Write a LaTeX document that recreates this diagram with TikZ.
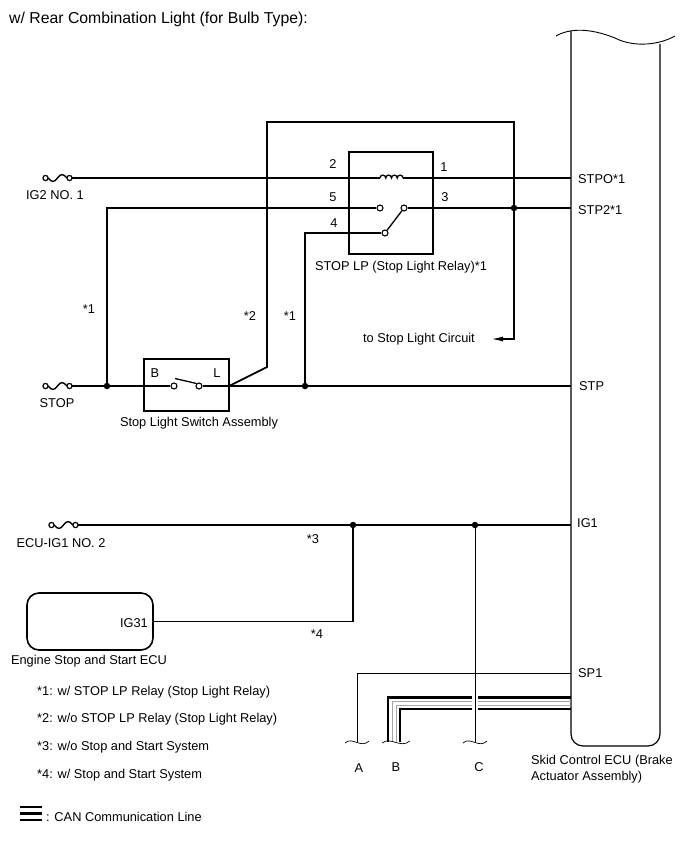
\documentclass[tikz,border=0pt]{standalone}
\usepackage{fontspec}
\setmainfont{Liberation Sans}
\usepackage{tikz}
\usetikzlibrary{arrows.meta}

\tikzset{
	fusesym/.pic={
		\draw[line width=1.2pt] (-12,0) circle (2.6);
		\draw[line width=1.2pt] (12,0) circle (2.6);
		\draw[line width=1.4pt] (-9.4,0) .. controls (-6,4.5) and (-3,4.5) .. (0,0) .. controls (3,-4.5) and (6,-4.5) .. (9.4,0);
		\coordinate (-out) at (14.6,0);
	},
	brk/.pic={
		\draw[line width=0.7pt] (-12,1) .. controls (-5,-6) and (4,7) .. (12,-1);
	}
}

\begin{document}
\begin{tikzpicture}[x=1pt,y=-1pt,font=\fontsize{12.8}{16}\selectfont,
	every node/.style={inner sep=0pt},
	wire/.style={line width=1.8pt},
	thin wire/.style={line width=0.9pt},
	canblack/.style={line width=2.5pt},
	cangray/.style={line width=0.8pt,gray!70},
	>={Latex[length=13pt,width=5pt]}]
	\useasboundingbox (0,0) rectangle (688,852);
	
	\node[anchor=west,font=\fontsize{15.8}{19}\selectfont] (title) at (9,19) {w/ Rear Combination Light (for Bulb Type):};
	
	% Skid Control ECU
	\draw[line width=1.2pt,rounded corners=12pt] (571,31) -- (571,746) -- (660,746) -- (660,44);
	\draw[line width=0.9pt] (556,36) .. controls (575,25) and (600,32) .. (615,38) .. controls (630,46) and (655,47) .. (675,36);
	\coordinate (STPO) at (571,178);
	\coordinate (STP2) at (571,208);
	\coordinate (STP) at (571,386);
	\coordinate (IG1) at (571,525);
	\coordinate (SP1) at (571,673);
	\begin{scope}[every node/.style={anchor=west,inner sep=0pt}]
		\node (tSTPO) at (578,179) {STPO*1};
		\node (tSTP2) at (578,210) {STP2*1};
		\node (tSTP) at (579,386) {STP};
		\node (tIG1) at (577,523) {IG1};
		\node (tSP1) at (578,673) {SP1};
		\node[align=left] (tecu) at (531,769) {Skid Control ECU (Brake\\Actuator Assembly)};
	\end{scope}
	
	% fuses
	\pic (f1) at (57.5,178) {fusesym};
	\pic (f2) at (57.5,386) {fusesym};
	\pic (f3) at (63.5,525) {fusesym};
	\node (tf1) at (55,195) {IG2 NO. 1};
	\node (tf2) at (57,403) {STOP};
	\node (tf3) at (61,543) {ECU-IG1 NO. 2};
	
	% relay and switch
	\node[draw,line width=1.8pt,minimum width=84pt,minimum height=102pt] (relay) at (391,203) {};
	\node (trelay) at (401,267) {STOP LP (Stop Light Relay)*1};
	\node[draw,line width=1.8pt,minimum width=85pt,minimum height=52pt] (sw) at (186.5,385) {};
	\node (tsw) at (199,423) {Stop Light Switch Assembly};
	\node (tB) at (155,373) {B};
	\node (tL) at (217,373) {L};
	\begin{scope}[every node/.style={circle,draw,fill=white,line width=1.1pt,inner sep=0pt,minimum size=6pt}]
		\node (r5) at (380,208) {};
		\node (r3) at (404,208) {};
		\node (r4) at (385,233) {};
		\node (sB) at (174,386) {};
		\node (sL) at (199,386) {};
	\end{scope}
	\node (t2) at (333,164) {2};
	\node (t1) at (444,167) {1};
	\node (t5) at (333,197) {5};
	\node (t3) at (445,197) {3};
	\node (t4) at (334,223) {4};
	
	% engine stop and start ECU
	\node[draw,line width=1.6pt,rounded corners=12pt,minimum width=126pt,minimum height=57pt] (eng) at (90,621.5) {};
	\node[anchor=east] (tIG31) at (148,623) {IG31};
	\node (teng) at (89,661) {Engine Stop and Start ECU};
	
	% junctions
	\begin{scope}[every node/.style={circle,fill=black,inner sep=0pt,minimum size=6.5pt}]
		\node (jA) at (107,386) {};
		\node (jB) at (305,386) {};
		\node (jC) at (514,208) {};
		\node (jD) at (353,525) {};
		\node (jE) at (475,525) {};
	\end{scope}
	\coordinate (coilL) at (380,178);
	\coordinate (coilR) at (403,178);
	\coordinate (blade) at (175,378.5);
	\coordinate (swout) at (229,386);
	\coordinate (swup) at (267,367);
	\coordinate (topL) at (267,122);
	\coordinate (topR) at (514,122);
	\coordinate (arrowEnd) at (490,339);
	\coordinate (endA) at (357,742);
	\coordinate (endC) at (475,742);
	
	% wires
	\draw[wire] (f1-out) -- (coilL);
	\draw[line width=1.3pt] (coilL) \foreach \i in {1,...,4} {arc[start angle=180,end angle=360,radius=2.875]};
	\draw[wire] (coilR) -- (STPO);
	\draw[wire] (STP2) -- (r3);
	\draw[line width=1.3pt] (r4) -- (r3);
	\draw[wire] (r5) -| (jA);
	\draw[wire] (r4) -| (jB);
	\draw[wire] (f2-out) -- (sB);
	\draw[line width=1.3pt] (blade) -- (sL.north west);
	\draw[wire] (sL) -- (STP);
	\draw[wire,->] (swout) -- (swup) -- (topL) -- (topR) |- (arrowEnd);
	\node[anchor=east] (tcirc) at (475,339) {to Stop Light Circuit};
	\draw[wire] (f3-out) -- (IG1);
	\draw[wire] (jD) |- (eng.east);
	\draw[thin wire] (jE) -- (endC);
	\draw[thin wire] (SP1) -| (endA);
	
	% CAN
	\foreach \d/\s in {0/canblack,1/cangray,2/cangray,3/canblack}{
		\coordinate (can\d) at (571,697.5+3.85*\d);
		\draw[\s] (can\d) -- (478,697.5+3.85*\d);
		\draw[\s] (472,697.5+3.85*\d) -| (388+4*\d,742);
	}
	\pic at (endA) {brk};
	\pic[xscale=1.15] at (396,742) {brk};
	\pic at (endC) {brk};
	\node (tA) at (359,768) {A};
	\node (tBB) at (396,767) {B};
	\node (tC) at (479,767) {C};
	
	% notes
	\node (n13) at (313,539) {*3};
	\node (n14) at (317,634) {*4};
	\node (n11) at (89,309) {*1};
	\node (n12) at (250,316) {*2};
	\node (n21) at (290,316) {*1};
	\begin{scope}[every node/.style={anchor=west,inner sep=0pt}]
		\node (l1) at (37,692) {*1: w/ STOP LP Relay (Stop Light Relay)};
		\node (l2) at (37,719) {*2: w/o STOP LP Relay (Stop Light Relay)};
		\node (l3) at (37,747) {*3: w/o Stop and Start System};
		\node (l4) at (37,775) {*4: w/ Stop and Start System};
		\node (l5) at (46,817) {: CAN Communication Line};
	\end{scope}
	\foreach \y in {807,813.5,820}
		\draw[canblack] (20,\y) -- (42,\y);
\end{tikzpicture}
\end{document}
